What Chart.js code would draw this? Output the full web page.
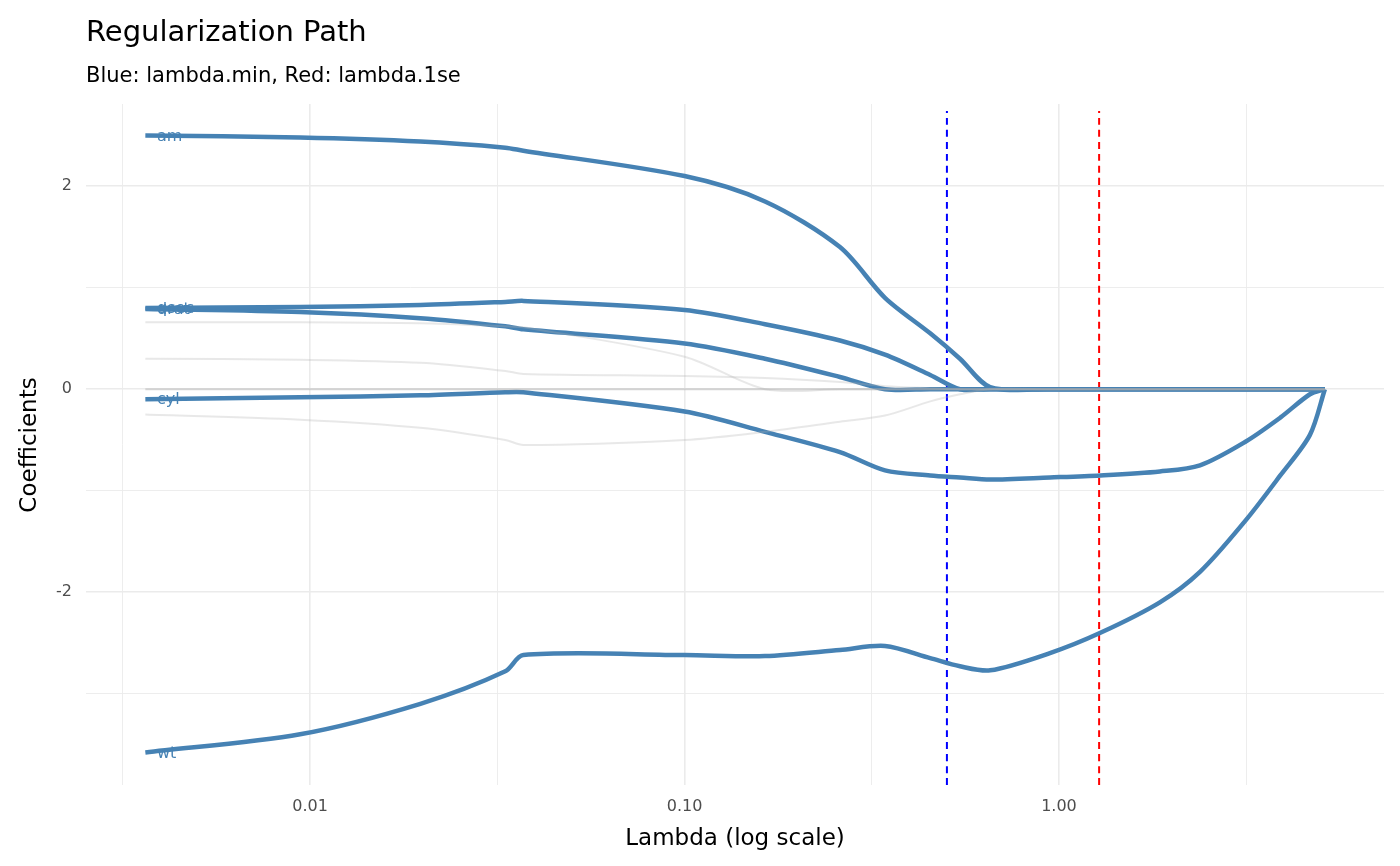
<!DOCTYPE html>
<html lang="en">
  <head>
    <meta charset="UTF-8" />
    <title>Regularization Path</title>
    <style>
      body { margin: 0; padding: 0; background: #fff; }
      .wrap { width: 1400px; height: 866px; position: relative; }
    </style>
  </head>
  <body>
    <div class="wrap"><canvas id="pathChart" width="1400" height="866"></canvas></div>

    <script src="https://cdn.jsdelivr.net/npm/chart.js"></script>
    <script>
      // lambda grid shared by all coefficient paths
      const lambdas = [0.00363, 0.0094, 0.0197, 0.0332, 0.0371, 0.1, 0.164, 0.26, 0.343, 0.453,
        0.544, 0.655, 0.946, 1.29, 1.86, 2.38, 3.14, 3.9, 4.68, 5.13];

      // highlighted variables
      const amCoef = [2.5, 2.48, 2.44, 2.38, 2.35, 2.1, 1.85, 1.4, 0.9, 0.55, 0.3, 0.02, 0, 0, 0, 0, 0, 0, 0, 0];
      const qsecCoef = [0.8, 0.81, 0.83, 0.86, 0.87, 0.78, 0.64, 0.48, 0.34, 0.14, 0, 0, 0, 0, 0, 0, 0, 0, 0, 0];
      const dratCoef = [0.79, 0.76, 0.7, 0.62, 0.59, 0.45, 0.3, 0.12, 0, 0, 0, 0, 0, 0, 0, 0, 0, 0, 0, 0];
      const cylCoef = [-0.1, -0.08, -0.06, -0.03, -0.03, -0.22, -0.42, -0.62, -0.8, -0.85, -0.87, -0.89, -0.87, -0.85, -0.81, -0.75, -0.52, -0.28, -0.05, 0];
      const wtCoef = [-3.58, -3.4, -3.1, -2.78, -2.62, -2.62, -2.63, -2.57, -2.53, -2.65, -2.73, -2.77, -2.6, -2.4, -2.1, -1.8, -1.3, -0.85, -0.45, 0];

      // remaining variables (faint)
      const grayA = [0.66, 0.66, 0.65, 0.62, 0.61, 0.32, 0.0, 0, 0, 0, 0, 0, 0, 0, 0, 0, 0, 0, 0, 0];
      const grayB = [0.3, 0.29, 0.26, 0.18, 0.15, 0.13, 0.11, 0.07, 0.03, 0.01, 0, 0, 0, 0, 0, 0, 0, 0, 0, 0];
      const grayC = [-0.25, -0.3, -0.38, -0.5, -0.55, -0.5, -0.42, -0.32, -0.26, -0.12, -0.05, 0, 0, 0, 0, 0, 0, 0, 0, 0];
      const grayZero = [0, 0, 0, 0, 0, 0, 0, 0, 0, 0, 0, 0, 0, 0, 0, 0, 0, 0, 0, 0];

      const lambdaMin = 0.502;
      const lambda1se = 1.28;

      const xTicks = [0.00316, 0.01, 0.0316, 0.1, 0.316, 1, 3.16];
      const xTickLabels = { 0.01: "0.01", 0.1: "0.10", 1: "1.00" };
      const yTicks = [-3, -2, -1, 0, 1, 2];
      const yTickLabels = { "-2": "-2", "0": "0", "2": "2" };

      const varNames = ["am", "qsec", "drat", "cyl", "wt"];
      const varCoefs = [amCoef, qsecCoef, dratCoef, cylCoef, wtCoef];

      const toPts = (ys) => lambdas.map((l, i) => ({ x: l, y: ys[i] }));
      const steel = "#4682b4";

      const datasets = [];
      [grayZero, grayA, grayB, grayC].forEach((g, i) => {
        datasets.push({
          data: toPts(g),
          borderColor: i === 0 ? "rgba(170,170,170,0.45)" : "rgba(180,180,180,0.3)",
          borderWidth: 2,
        });
      });
      varCoefs.forEach((c) => {
        datasets.push({ data: toPts(c), borderColor: steel, borderWidth: 4.5 });
      });
      datasets.push({
        data: [{ x: lambdaMin, y: -3.9 }, { x: lambdaMin, y: 2.74 }],
        borderColor: "#0000ff", borderWidth: 2, borderDash: [7, 5],
      });
      datasets.push({
        data: [{ x: lambda1se, y: -3.9 }, { x: lambda1se, y: 2.74 }],
        borderColor: "#ff0000", borderWidth: 2, borderDash: [7, 5],
      });

      const textPlugin = {
        id: "texts",
        afterDatasetsDraw(chart) {
          const ctx = chart.ctx;
          const xs = chart.scales.x, ys = chart.scales.y;
          ctx.save();
          ctx.fillStyle = steel;
          ctx.font = "16px 'DejaVu Sans'";
          ctx.textBaseline = "middle";
          varNames.forEach((n, i) => {
            ctx.fillText(n, xs.getPixelForValue(0.0036) + 13, ys.getPixelForValue(varCoefs[i][0]) + 1);
          });
          ctx.restore();
        },
        afterDraw(chart) {
          const ctx = chart.ctx;
          ctx.save();
          ctx.fillStyle = "#000";
          ctx.textBaseline = "alphabetic";
          ctx.font = "29px 'DejaVu Sans'";
          ctx.fillText("Regularization Path", 86, 41);
          ctx.font = "21px 'DejaVu Sans'";
          ctx.fillText("Blue: lambda.min, Red: lambda.1se", 86, 82);
          ctx.font = "23px 'DejaVu Sans'";
          ctx.textAlign = "center";
          ctx.fillText("Lambda (log scale)", 735, 845);
          ctx.translate(36, 445);
          ctx.rotate(-Math.PI / 2);
          ctx.fillText("Coefficients", 0, 0);
          ctx.restore();
        },
      };

      new Chart(document.getElementById("pathChart"), {
        type: "line",
        data: { datasets },
        options: {
          responsive: false,
          animation: false,
          elements: { point: { radius: 0 }, line: { tension: 0.3 } },
          layout: { padding: { top: 104, right: 16, left: 0, bottom: 0 } },
          plugins: { legend: { display: false }, tooltip: { enabled: false } },
          scales: {
            x: {
              type: "logarithmic",
              min: 0.00252,
              max: 7.38,
              afterBuildTicks: (s) => { s.ticks = xTicks.map((v) => ({ value: v })); },
              afterFit: (s) => { s.height = 81; },
              border: { display: false },
              grid: {
                color: "#ebebeb",
                lineWidth: (c) => (xTickLabels[c.tick.value] ? 1.6 : 0.9),
                drawTicks: false,
              },
              ticks: {
                autoSkip: false,
                maxRotation: 0,
                padding: 12,
                color: "#4d4d4d",
                font: { size: 16, family: "DejaVu Sans" },
                callback: (v) => xTickLabels[v] || "",
              },
            },
            y: {
              min: -3.9,
              max: 2.81,
              afterBuildTicks: (s) => { s.ticks = yTicks.map((v) => ({ value: v })); },
              afterFit: (s) => { s.width = 86; },
              border: { display: false },
              grid: {
                color: "#ebebeb",
                lineWidth: (c) => (yTickLabels[String(c.tick.value)] ? 1.6 : 0.9),
                drawTicks: false,
              },
              ticks: {
                padding: 14,
                color: "#4d4d4d",
                font: { size: 16, family: "DejaVu Sans" },
                callback: (v) => yTickLabels[String(v)] || "",
              },
            },
          },
        },
        plugins: [textPlugin],
      });
    </script>
  </body>
</html>
